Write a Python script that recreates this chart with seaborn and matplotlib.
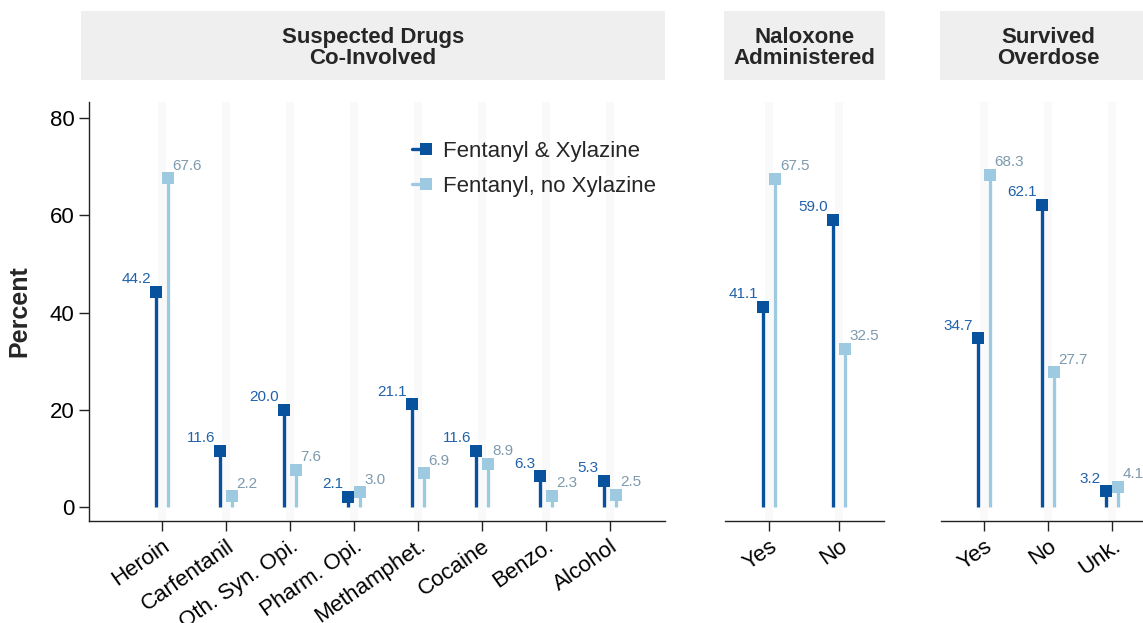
import numpy as np
import pandas as pd
import matplotlib.pyplot as plt
import seaborn as sns
from matplotlib.lines import Line2D
from matplotlib.legend_handler import HandlerBase

sns.set_style('ticks')
plt.rcParams['font.family'] = ['Liberation Sans', 'DejaVu Sans']

series = ['Fentanyl & Xylazine', 'Fentanyl, no Xylazine']

drug_cats = ['Heroin', 'Carfentanil', 'Oth. Syn. Opi.', 'Pharm. Opi.',
             'Methamphet.', 'Cocaine', 'Benzo.', 'Alcohol']
drug_fx = [44.2, 11.6, 20.0, 2.1, 21.1, 11.6, 6.3, 5.3]
drug_fnx = [67.6, 2.2, 7.6, 3.0, 6.9, 8.9, 2.3, 2.5]

nalox_cats = ['Yes', 'No']
nalox_fx = [41.1, 59.0]
nalox_fnx = [67.5, 32.5]

surv_cats = ['Yes', 'No', 'Unk.']
surv_fx = [34.7, 62.1, 3.2]
surv_fnx = [68.3, 27.7, 4.1]

dark = '#08519c'
light = '#9ecae1'
dark_txt = '#2161aa'
light_txt = '#7d9aae'
strip_col = '#efefef'
band_col = '#f9f9f9'

W, H = 1143, 623
fig = plt.figure(figsize=(W / 100, H / 100), dpi=100)


def fbox(x0, y0, x1, y1):
    # pixel box (top-left origin) -> figure fraction rect
    return [x0 / W, 1 - y1 / H, (x1 - x0) / W, (y1 - y0) / H]


class StemHandler(HandlerBase):
    # short stem with the square marker at its right end
    def create_artists(self, legend, orig_handle, xdescent, ydescent,
                       width, height, fontsize, trans):
        y = height / 2 - ydescent
        x0 = -xdescent
        xm = x0 + width - 4.15
        col = orig_handle.get_color()
        line = Line2D([x0, xm], [y, y], color=col, lw=2.4, transform=trans)
        mark = Line2D([xm], [y], color=col, marker='s', markersize=8.3,
                      markeredgewidth=0, linestyle='none', transform=trans)
        return [line, mark]


# title, cats, fx, fnx, axes px (left, right), xlim, strip px (left, right)
panels = [
    ('Suspected Drugs\nCo-Involved', drug_cats, drug_fx, drug_fnx,
     (89, 665), (-1.14, 7.86), (81, 665)),
    ('Naloxone\nAdministered', nalox_cats, nalox_fx, nalox_fnx,
     (725, 884), (-0.63, 1.64), (724, 885)),
    ('Survived\nOverdose', surv_cats, surv_fx, surv_fnx,
     (941, 1155), (-0.67, 2.67), (940, 1156)),
]

top, bottom = 102, 521
first_ax = None
for k, (title, cats, fx, fnx, (l, r), xlim, (sl, sr)) in enumerate(panels):
    ax = fig.add_axes(fbox(l, top, r, bottom))
    px_unit = (r - l) / (xlim[1] - xlim[0])
    dodge = 11.6 / px_unit
    half_band = 4 / px_unit
    n = len(cats)
    pos = np.arange(n)

    df = pd.DataFrame({
        'category': cats * 2,
        'series': [series[0]] * n + [series[1]] * n,
        'percent': fx + fnx,
    })

    for i in pos:
        ax.axvspan(i - half_band, i + half_band, color=band_col, lw=0, zorder=0)

    ax.vlines(pos - dodge / 2, 0, fx, color=dark, lw=2.4, zorder=2)
    ax.vlines(pos + dodge / 2, 0, fnx, color=light, lw=2.4, zorder=2)

    sns.pointplot(data=df, x='category', y='percent', hue='series',
                  order=cats, hue_order=series, palette=[dark, light],
                  dodge=dodge, markers='s', linestyle='none', errorbar=None,
                  markersize=8.3, markeredgewidth=0, legend=False, ax=ax,
                  zorder=3)

    for i, v in enumerate(fx):
        ax.annotate(f'{v:.1f}', (i - dodge / 2, v), xytext=(-3.8, 6.3),
                    textcoords='offset points', ha='right', va='baseline',
                    fontsize=11, color=dark_txt)
    for i, v in enumerate(fnx):
        ax.annotate(f'{v:.1f}', (i + dodge / 2, v), xytext=(3.5, 6.3),
                    textcoords='offset points', ha='left', va='baseline',
                    fontsize=11, color=light_txt)

    ax.set_xlim(*xlim)
    ax.set_ylim(-2.88, 83.3)
    ax.set_yticks([0, 20, 40, 60, 80])
    ax.set_xlabel('')
    ax.set_ylabel('')
    sns.despine(ax=ax)
    for s in ('left', 'bottom'):
        ax.spines[s].set_linewidth(1.0)
        ax.spines[s].set_color('#222222')
    ax.tick_params(axis='both', length=7, width=1.0, color='#222222',
                   labelsize=16, labelcolor='black')
    plt.setp(ax.get_xticklabels(), rotation=35, ha='right',
             rotation_mode='anchor')

    if k == 0:
        first_ax = ax
        ax.set_ylabel('Percent', fontsize=18, fontweight='bold')
        ax.yaxis.set_label_coords((31 - l) / (r - l), 0.5)
    else:
        ax.spines['left'].set_visible(False)
        ax.tick_params(axis='y', left=False, labelleft=False)

    sax = fig.add_axes(fbox(sl, 11, sr, 80))
    sax.set_facecolor(strip_col)
    sax.set_xticks([])
    sax.set_yticks([])
    for s in sax.spines.values():
        s.set_visible(False)
    sax.text(0.5, 0.46, title, ha='center', va='center', fontsize=16,
             fontweight='bold', linespacing=1.0, transform=sax.transAxes)

handles = [Line2D([], [], color=dark), Line2D([], [], color=light)]
first_ax.legend(handles, series, loc='upper left',
                handler_map={Line2D: StemHandler()},
                bbox_to_anchor=(412 / W, 1 - 141 / H),
                bbox_transform=fig.transFigure, frameon=False, fontsize=16,
                borderpad=0, borderaxespad=0, handlelength=0.9,
                handletextpad=0.5, labelspacing=0.64)

fig.savefig('out.png', dpi=100)
